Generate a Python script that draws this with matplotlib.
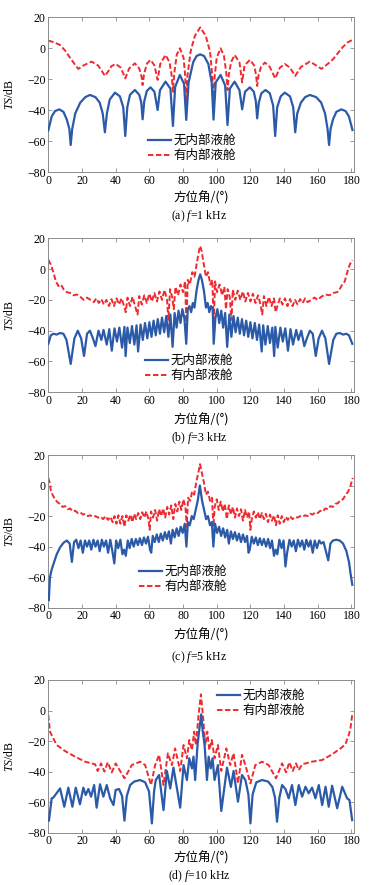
import matplotlib
matplotlib.use("Agg")
import matplotlib.pyplot as plt

plt.rcParams['font.family'] = ['Liberation Serif', 'Noto Sans CJK SC', 'DejaVu Sans']
plt.rcParams['mathtext.fontset'] = 'custom'
plt.rcParams['mathtext.rm'] = 'Liberation Serif'
plt.rcParams['mathtext.it'] = 'Liberation Serif:italic'

# ---------------- data ----------------
labels = ['无内部液舱', '有内部液舱']
captions = ['(a) $f$=1 kHz', '(b) $f$=3 kHz', '(c) $f$=5 kHz', '(d) $f$=10 kHz']
x_ticks = [0, 20, 40, 60, 80, 100, 120, 140, 160, 180]
y_ticks = [20, 0, -20, -40, -60, -80]

# (a) f = 1 kHz
a_blue_x = [0, 2, 4, 6.5, 9, 11, 12.5, 13.3, 14.2, 16, 19, 22, 24.7, 28, 30.5, 32.3, 33.6, 34.8, 36.5, 39.6,
            42.5, 44.5, 45.7, 46.9, 48.5, 51.4, 54, 55.2, 56, 57, 58.5, 60.7, 63, 64.9, 66.3, 69.6, 72.5, 74,
            75.3, 78.1, 80.6, 81.9, 83.3, 86, 88, 90.2, 92.5, 95, 97, 98.1, 99.4, 102.3, 105, 106.4, 107.8,
            110.6, 113.5, 115.1, 116.8, 119.7, 122, 123.2, 124, 125, 126.5, 129, 131.5, 133.5, 134.7, 135.9,
            138, 140.4, 143.5, 145.4, 146.6, 147.8, 150, 152.5, 155.3, 159, 162, 164.3, 165.8, 166.7, 167.6,
            169, 171, 174, 176.5, 178.5, 180.6]
a_blue_y = [-53, -44, -40.5, -39.4, -41, -46, -52, -62.4, -52, -42, -35, -31.5, -30.1, -31.5, -35, -42, -54.2,
            -42, -33, -28.6, -31, -38, -56.6, -38, -30, -26.9, -30, -35, -45.8, -34, -27.5, -25.2, -28, -39.8,
            -27, -21.5, -26, -50.1, -25, -17.2, -23, -46.2, -22, -9, -5, -3.9, -5, -10, -22, -46, -22, -17.2,
            -24, -49.5, -26, -21.5, -27, -39.4, -28, -25.2, -28, -34, -45.2, -35, -29, -26.9, -29, -37, -56.6,
            -38, -31, -28.6, -31, -38, -54.2, -42, -35, -31.5, -30.1, -31.5, -35, -42, -52, -62.4, -52, -46,
            -41, -39.4, -40.5, -44, -52.7]
a_red_x = [0, 3, 6.9, 10, 13.8, 17.8, 21, 25.7, 29.5, 32, 33.6, 35.5, 37.5, 40.1, 43, 45.7, 48, 51.4, 54, 55.3,
           56, 56.8, 58.5, 60.7, 63, 64.9, 66.5, 69.6, 72, 73.3, 74, 74.8, 76.3, 78.1, 80.3, 81.3, 81.9, 82.6,
           84.5, 87, 90.2, 93.5, 96, 97.4, 98.1, 98.8, 100, 102.3, 104.3, 105.7, 106.4, 107.2, 108.5, 110.6,
           113.5, 115.1, 116.5, 119.7, 122.2, 123.3, 124, 124.9, 126.3, 128.6, 131.5, 134.7, 137.5, 140.4,
           143.5, 146.6, 150, 155.3, 159, 162.2, 166, 169.1, 172, 175, 178, 180.6]
a_red_y = [5, 4, 2.2, -1.5, -7.5, -13.3, -11, -8.6, -11, -15, -17.8, -15, -11.5, -10.1, -12.5, -19.4, -13, -9.7,
           -13, -18, -23.7, -17, -10, -7.5, -11, -20.4, -10, -4.3, -9, -18, -28, -16, -4, 0, -6, -18, -37.2,
           -18, -2, 8, 13.5, 8, -2, -18, -37, -18, -6, 0, -5, -16, -27, -17, -9, -4.3, -9, -22, -11, -7.5,
           -11, -17, -24.3, -17, -12, -9.2, -12, -19.4, -12.5, -10.1, -12.5, -17.8, -12, -8.6, -11, -13.3,
           -10, -7, -3, 1, 4, 5.4]

# (b) f = 3 kHz
b_blue_x = [0, 1.5, 3, 5, 7, 9, 10.8, 13.3, 15.5, 17.5, 19.5, 21.2, 23, 24.7, 26.5, 28, 29.8, 31.5, 32.8, 34.7,
            36.2, 37.7, 39.3, 40.8, 42.2, 43.8, 45.2, 45.9, 47, 48.4, 49.7, 51.1, 52.4, 53.3, 54.8, 56.1, 57.4,
            58.8, 60, 61.3, 62.5, 63.8, 65, 66.3, 67.5, 68.8, 70, 71.3, 72.5, 73.8, 75, 76.2, 77.3, 78.5, 79.6,
            80.8, 81.9, 82.8, 83.8, 84.8, 85.8, 86.8, 88, 89.2, 90.2, 91.2, 92.4, 93.6, 94.6, 95.6, 96.6, 97.6,
            98.2, 99.2, 100.4, 101.5, 102.7, 103.8, 105, 106.2, 107.5, 108.7, 110, 111.2, 112.5, 113.7, 115,
            116.2, 117.5, 118.7, 120, 121.2, 122.6, 123.9, 125.2, 126.7, 127.6, 128.9, 130.3, 131.6, 133, 134.1,
            134.8, 136.2, 137.8, 139.2, 140.7, 142.3, 143.8, 145.3, 147.2, 148.5, 150.2, 152, 153.5, 155.3, 157,
            158.8, 160.5, 162.5, 164.5, 166.7, 169.2, 171, 173, 175, 177, 178.5, 180.5]
b_blue_y = [-48.5, -43, -42, -42.5, -41.5, -42, -46, -61.6, -45, -40, -45, -56.4, -42, -40, -45, -50, -40, -46,
            -39.5, -49, -39, -53, -38.5, -47, -38, -51, -37.5, -56.5, -38, -48, -37, -49, -36.5, -53.5, -36, -46,
            -35, -45, -34.5, -44, -33.5, -43, -32.5, -42, -31.5, -41, -30.5, -44, -29.5, -50.5, -28.5, -38, -27,
            -35, -26, -32, -48.5, -26, -24, -28, -22, -25, -14, -7, -3.4, -7, -14, -25, -22, -28, -24, -26,
            -48.5, -32, -26, -35, -27, -38, -28.5, -50.5, -29.5, -44, -30.5, -41, -31.5, -42, -32.5, -43, -33.5,
            -44, -34.5, -45, -35, -46, -36, -53.5, -36.5, -49, -37, -48, -38, -56.5, -37.5, -51, -38, -47, -38.5,
            -53, -39, -49, -39.5, -46, -40, -50, -45, -40, -42, -56.4, -45, -40, -45, -61.6, -46, -42, -41.5,
            -42.5, -42, -43, -48.5]
b_red_x = [0, 1.5, 3, 4.5, 6, 7.5, 9, 11, 13, 15, 17, 19, 21, 23, 25, 27, 28.5, 30, 31.5, 33, 34.5, 36, 37.5, 39,
           40.5, 42, 43.5, 45, 46, 47, 48.5, 50, 51.5, 53, 54, 55.5, 57, 58.5, 60, 61.5, 63, 64.5, 66, 67.5, 69,
           70.5, 71.3, 72.3, 73.5, 74.5, 75.5, 77, 78.5, 80, 81.2, 82, 82.8, 84, 85.5, 86.8, 88.2, 89.5, 90.2,
           91, 92.2, 93.6, 94.8, 96.2, 97.4, 98.2, 99, 100.2, 101.7, 103.2, 104.5, 105.5, 106.5, 107.7, 108.8,
           109.5, 111, 112.5, 114, 115.5, 117, 118.5, 120, 121.5, 123, 124.5, 126, 127, 128, 129.5, 131, 132.5,
           134, 135, 136, 137.5, 139, 140.5, 142, 143.5, 145, 146.5, 148, 149.5, 151, 152.5, 154, 156, 158, 160,
           162, 164.5, 167, 169, 171.5, 173, 174.5, 176, 177.5, 179, 180.5]
b_red_y = [6, 3, -2, -8, -11, -10, -13, -15, -15.5, -17, -16.5, -18, -20, -18.5, -20, -21.5, -19, -22, -19.5,
           -23, -20, -24, -19.5, -24, -19, -23, -19, -24, -28, -18.5, -24, -18, -24, -29.5, -17.5, -23, -17, -22,
           -16, -21, -15.5, -21, -14.5, -20, -13.5, -20, -33, -13, -18, -26, -11.5, -17, -10, -15, -8, -37, -7,
           -10, -2, -5, 4, 12, 15, 12, 4, -5, -2, -10, -7, -37, -8, -15, -10, -17, -11.5, -26, -13, -18, -33,
           -13.5, -20, -14, -20, -14.5, -21, -15.5, -21, -16, -22, -17, -23, -29.5, -17.5, -24, -18, -24, -19,
           -28, -24, -19, -23, -19, -24, -19.5, -24, -20, -23, -19.5, -22, -19, -21.5, -20, -18.5, -20, -18,
           -16.5, -17, -15.5, -15, -13, -10, -8, -2, 3, 6]

# (c) f = 5 kHz
c_blue_x = [0.3, 1, 2, 3.5, 5, 7, 9, 11, 12.7, 14, 15.3, 16.6, 17.9, 19.2, 20.5, 21.8, 23, 24.3, 25.5, 26.8, 28,
            29.3, 30.5, 31.8, 33, 34.3, 35.5, 36.8, 38.2, 39.2, 40.3, 41.5, 42.8, 44, 45, 46, 47.2, 48.3, 49.5,
            50.7, 52, 53.2, 54.4, 55.6, 56.8, 58, 59.2, 60.4, 61.1, 62, 63.2, 64.4, 65.6, 66.8, 68, 69.2, 70.4,
            71.6, 72.8, 73.8, 75, 76.2, 77.4, 78.6, 79.8, 81, 82, 82.9, 84, 85.2, 86.3, 87.5, 88.7, 90, 91.3,
            92.5, 93.7, 94.8, 96, 97.1, 98, 99, 100.2, 101.4, 102.6, 103.8, 105, 106.2, 107.2, 108.4, 109.6,
            110.8, 112, 113.2, 114.4, 115.6, 116.8, 118, 118.9, 119.6, 120.8, 122, 123.2, 124.4, 125.6, 126.8,
            128, 129.3, 130.5, 131.7, 132.8, 134, 135, 136, 137.2, 138.5, 139.7, 140.8, 141.8, 143.2, 144.5,
            145.7, 147, 148.2, 149.5, 150.7, 152, 153.2, 154.5, 155.7, 157, 158.2, 159.5, 160.8, 162, 163.4, 165,
            166.2, 167.5, 169, 171, 173, 175, 177, 178.5, 179.5, 180.5]
c_blue_y = [-75, -60, -55, -50, -45, -40.5, -37.5, -36, -38, -50, -37, -35.5, -41, -36, -44, -36, -40, -36, -42,
            -35.5, -40, -36, -43, -35.5, -40, -36, -44, -35.5, -44, -51, -36, -41, -35.5, -45, -42, -46, -36, -41,
            -35, -40, -35, -39, -34.5, -39, -34, -38, -33.5, -42, -44, -33, -37, -32, -37, -31.5, -36, -30.5, -35,
            -30, -38, -29, -34, -28, -33, -27, -31, -25, -40, -24, -26, -20, -22, -16, -10, 0, -10, -16, -22, -20,
            -26, -24, -40, -25, -31, -27, -33, -28, -34, -29, -38, -30, -35, -30.5, -36, -31.5, -37, -32, -37,
            -33, -44, -42, -33.5, -38, -34, -39, -34.5, -39, -35, -40, -35, -41, -36, -46, -42, -45, -35.5, -41,
            -36, -53, -44, -35.5, -40, -36, -43, -35.5, -40, -36, -42, -35.5, -40, -36, -44, -36, -41, -36, -38,
            -37, -44, -49, -38, -36, -35.5, -36, -38, -43, -50, -58, -65]
c_red_x = [0, 0.8, 1.5, 2.5, 4, 5.5, 7, 8.5, 10, 11.5, 13, 14.5, 16, 17.5, 19, 20.5, 22, 23.5, 25, 26.5, 28, 29.5,
           31, 32.5, 34, 35.5, 37, 38.2, 39.3, 40.5, 41.6, 42.8, 44, 45.2, 46.3, 47.5, 48.7, 49.9, 51, 52.2, 53.4,
           54.6, 55.8, 57, 58.2, 59.4, 60.2, 61, 62.2, 63.4, 64.6, 65.8, 67, 68.2, 69.4, 70.6, 71.8, 73, 74.2,
           75.4, 76.6, 77.8, 79, 80.2, 81.4, 82.2, 83, 84.2, 85.4, 86.6, 87.8, 89, 90.1, 91.2, 92.4, 93.6, 94.8,
           96, 97.2, 98, 98.8, 100, 101.2, 102.4, 103.6, 104.8, 106, 107.2, 108.4, 109.6, 110.8, 112, 113.2,
           114.4, 115.6, 116.8, 118, 119.2, 120, 120.8, 122, 123.2, 124.4, 125.6, 126.8, 128, 129.2, 130.4,
           131.6, 132.8, 134, 135.2, 136.2, 137.4, 138.6, 139.8, 141, 142.2, 143.5, 145, 146.5, 148, 149.5, 151,
           152.5, 154, 155.5, 157, 158.5, 160, 161.5, 163, 164.5, 166, 167.5, 169, 170.5, 172, 173.5, 175,
           176.5, 178, 179.2, 180, 180.8]
c_red_y = [5, 2, -3, -6, -9, -11, -12, -14, -13.5, -15.5, -15, -17, -16.5, -18, -17.5, -19, -18.5, -20, -19.5,
           -20.5, -20, -21, -20.5, -22, -20, -22.5, -20.5, -24, -20, -25, -19.5, -25, -20, -27, -19.5, -23, -19,
           -24, -18.5, -22, -18, -22, -17.5, -21, -17, -22, -29, -17, -21, -16, -23, -15.5, -20, -15, -21, -14,
           -19, -13, -22, -12, -17, -10.5, -16, -9, -14, -27, -8, -10, -4, -6, 2, 8, 14, 8, 2, -6, -4, -10, -8,
           -27, -14, -9, -16, -10.5, -17, -12, -22, -13, -19, -14, -21, -15, -20, -15.5, -23, -16, -21, -17, -29,
           -22, -17, -21, -17.5, -22, -18, -22, -18.5, -24, -19, -23, -19.5, -26, -19.5, -25, -20, -24, -20.5,
           -22.5, -20, -22, -20.5, -21, -20, -20.5, -19.5, -20, -18.5, -19, -17.5, -18, -16.5, -17, -15, -15.5,
           -13.5, -14, -12, -11.5, -9.5, -9, -6, -4, -1, 2, 5]

# (d) f = 10 kHz
d_blue_x = [0.4, 2, 3, 7, 9.5, 11.9, 14.3, 16.3, 18.8, 20.8, 22.2, 23.8, 25.4, 27.2, 28.7, 30.7, 32.7, 34.7, 36.7,
            38.7, 40, 42, 43.8, 45.2, 46.6, 48.6, 51, 54.5, 57.5, 59.8, 61.5, 62.8, 63.8, 65.8, 68.4, 70.4, 72.4,
            74.3, 78.3, 80.3, 82.3, 83.7, 85.3, 86.2, 87.2, 88.6, 89.6, 90.8, 91.6, 92.8, 94.2, 95.2, 96.4, 97.5,
            98.7, 100.7, 102.7, 106.1, 108.4, 110, 112.6, 115, 117, 118.8, 120, 121.3, 123.5, 126.9, 130.5, 133,
            134.6, 135.8, 137.2, 138.8, 140.8, 142.7, 144.7, 146.7, 148.7, 150.7, 152.7, 154.6, 156.6, 158.6,
            160.6, 162.6, 164.6, 166.5, 168.5, 171.5, 174.5, 177.4, 178.8, 180.4]
d_blue_y = [-72, -57.5, -57, -51, -63, -50.5, -63, -50.5, -61.4, -50.5, -55.3, -51.4, -56.4, -48.8, -63.6, -48.3,
            -56.4, -48.8, -57.5, -61.9, -52, -51.4, -56, -72.1, -56, -48.8, -46.5, -45.5, -47, -53, -73.9, -53,
            -45.5, -42.2, -65.2, -39.6, -51, -37.4, -63.6, -35.7, -45.5, -31.3, -37.9, -30.2, -45.5, -22.6, -12.8,
            -2.5, -12.8, -22.6, -45.5, -30.2, -37.9, -31.3, -45.5, -35.7, -65.8, -37.4, -50, -39.6, -59.7, -42.2,
            -45.5, -55, -73.9, -55, -47, -45.5, -46.5, -50, -57, -72.8, -57, -48.8, -51.4, -57.5, -48.8, -61.9,
            -48.8, -56.4, -49.9, -54.2, -50.5, -57.5, -48.8, -61.9, -49.9, -63, -49.2, -64, -49.9, -57.5, -58.6,
            -71.7]
d_red_x = [0, 1, 2.4, 5, 9.9, 15.9, 21.8, 27.8, 29.3, 31.3, 33.3, 35.3, 37.7, 40, 45.2, 49.6, 54.5, 57.5, 61,
           63.4, 65.8, 68.4, 71, 73.4, 75.3, 78.3, 80.3, 82.3, 83.7, 85.3, 86.6, 87.6, 89.2, 90.6, 91.8, 93.2,
           94.4, 95.6, 97.1, 98.7, 100.7, 102.7, 105.7, 108, 110, 112.6, 115, 117, 120, 122.9, 126.9, 130.8,
           135.2, 138.8, 141.2, 143.1, 145.1, 147.1, 148.7, 150.7, 156.6, 162.6, 168.5, 173.5, 176.4, 178.4,
           179.4, 180.4]
d_red_y = [-3, -13.8, -17, -22.6, -26.5, -30.2, -33.5, -35.2, -39.6, -34.6, -40, -33.9, -40.5, -34.6, -44.4,
           -35.7, -33.5, -35.7, -48.8, -35.7, -29, -48.8, -28, -35.7, -24.8, -39.6, -22.6, -31.3, -19.3, -25.9,
           -13.8, -22.6, -3, 10.6, -3, -22.6, -13.8, -25.9, -19.3, -31.3, -22.6, -39.6, -24.8, -35.7, -28,
           -47.7, -29, -35.7, -47.7, -35.7, -33.5, -35.7, -44.4, -34.6, -40.5, -33.9, -39.6, -34.6, -39, -35.2,
           -33.5, -32.4, -28.7, -24.8, -22.1, -16, -11.7, -3]

blue_x = [a_blue_x, b_blue_x, c_blue_x, d_blue_x]
blue_y = [a_blue_y, b_blue_y, c_blue_y, d_blue_y]
red_x = [a_red_x, b_red_x, c_red_x, d_red_x]
red_y = [a_red_y, b_red_y, c_red_y, d_red_y]

# ---------------- layout ----------------
W, H = 371, 885
fig = plt.figure(figsize=(W / 100, H / 100), dpi=100)

# axes pixel boxes: left, top, right, bottom
boxes = [(48.3, 17.3, 354, 172.3), (48.3, 238.3, 354, 392.3),
         (48.3, 455, 354, 607.7), (48.3, 680, 354, 832.7)]
xlabel_y = [198, 420, 635, 858]
caption_y = [216, 438, 657, 876]
legend_pos = [(148, 134), (145, 354), (139, 565), (217, 689)]

BLUE = '#2b5aa8'
RED = '#ee2b30'
GRAY = '#8c8c8c'
cjk = ['Noto Sans CJK SC', 'Liberation Serif', 'DejaVu Sans']

for i in range(4):
    l, t, r, b = boxes[i]
    ax = fig.add_axes([l / W, 1 - b / H, (r - l) / W, (b - t) / H])
    ax.plot(blue_x[i], blue_y[i], color=BLUE, lw=1.6, label=labels[0], zorder=3)
    ax.plot(red_x[i], red_y[i], color=RED, lw=1.4, linestyle=(0, (2.8, 1.3)), label=labels[1], zorder=2)
    ax.set_xlim(0, 181.5)
    ax.set_ylim(-80, 20)
    ax.set_xticks(x_ticks)
    ax.set_yticks(y_ticks)
    ax.tick_params(direction='in', length=3, width=0.6, color=GRAY, labelsize=8.5,
                   top=True, right=True, pad=2)
    for s in ax.spines.values():
        s.set_color(GRAY)
        s.set_linewidth(0.7)
    ax.set_ylabel('$TS$/dB', fontsize=8.5, labelpad=1)
    ax.yaxis.set_label_coords(-0.105, 0.5)
    lx, ly = legend_pos[i]
    leg = ax.legend(loc='upper left', bbox_to_anchor=(lx / W, 1 - ly / H), bbox_transform=fig.transFigure,
                    frameon=False, borderpad=0, borderaxespad=0, handlelength=1.8, handletextpad=0.25,
                    labelspacing=0.15, prop={'family': cjk, 'size': 9})
    fig.text(201 / W, 1 - xlabel_y[i] / H, '方位角/(°)', ha='center', va='center', fontsize=9, family=cjk)
    fig.text(199 / W, 1 - caption_y[i] / H, captions[i], ha='center', va='center', fontsize=8.5)

fig.savefig('out.png', dpi=100)
